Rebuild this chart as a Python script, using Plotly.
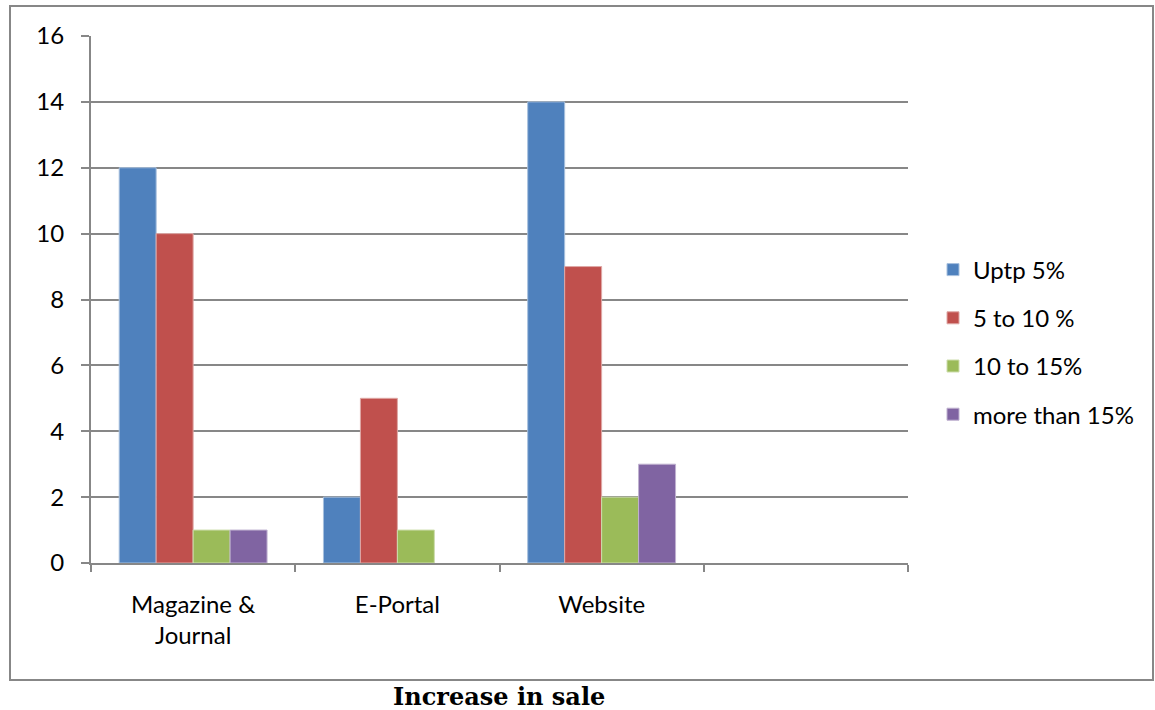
import plotly.graph_objects as go

categories = ["Magazine &<br>Journal", "E-Portal", "Website", " "]
series_names = ["Uptp 5%", "5 to 10 %", "10 to 15%", "more than 15%"]
upto5 = [12, 2, 14]
p5to10 = [10, 5, 9]
p10to15 = [1, 1, 2]
more15 = [1, 0, 3]
y_ticks = [0, 2, 4, 6, 8, 10, 12, 14, 16]
colors = ["#4F81BD", "#C0504D", "#9BBB59", "#8064A2"]
edge_colors = ["#A7C0DE", "#DFA8A6", "#CDDDAC", "#BFB1D0"]

W, H = 1155, 710
L, R, T, B = 91, 247, 36, 147
pw, ph = W - L - R, H - T - B


def px_x(px):
    return (px - L) / pw


def px_y(py):
    return (H - B - py) / ph


font_main = "Lato, 'Open Sans', sans-serif"
fig = go.Figure()
for name, vals, c, ec in zip(series_names, [upto5, p5to10, p10to15, more15], colors, edge_colors):
    fig.add_trace(go.Bar(
        x=categories[:3], y=vals, name=name,
        marker=dict(color=c, line=dict(color=ec, width=[1 if v > 0 else 0 for v in vals])),
        legendgroup=name,
    ))

fig.update_layout(
    width=W, height=H,
    margin=dict(l=L, r=R, t=T, b=B, pad=0),
    paper_bgcolor="white", plot_bgcolor="white",
    barmode="group", bargap=0.276, bargroupgap=0,
    font=dict(family=font_main, size=24, color="#000000"),
    showlegend=True,
    legend=dict(
        x=px_x(933), y=px_y(342), xanchor="left", yanchor="middle",
        font=dict(size=24), tracegroupgap=14, bgcolor="rgba(0,0,0,0)",
        traceorder="grouped",
    ),
    xaxis=dict(
        type="category", categoryorder="array", categoryarray=categories,
        range=[-0.5, 3.5], tickson="boundaries",
        ticks="outside", ticklen=7, tickcolor="#878787", tickwidth=2,
        showline=True, linecolor="#878787", linewidth=2,
        showgrid=False, zeroline=False, tickfont=dict(size=24),
        ticklabelstandoff=19,
    ),
    yaxis=dict(
        range=[0, 16], tickvals=y_ticks, ticktext=[str(v) for v in y_ticks],
        ticks="outside", ticklen=8, tickcolor="#878787", tickwidth=2,
        showline=True, linecolor="#878787", linewidth=2,
        showgrid=True, gridcolor="#878787", gridwidth=2,
        zeroline=False, tickfont=dict(size=24), ticklabelstandoff=12,
    ),
    shapes=[dict(
        type="rect", xref="paper", yref="paper",
        x0=px_x(10), x1=px_x(1153), y0=px_y(680), y1=px_y(6),
        line=dict(color="#878787", width=2), fillcolor="rgba(0,0,0,0)", layer="below",
    )],
    annotations=[dict(
        text="<b>Increase in sale</b>", xref="paper", yref="paper",
        x=px_x(499), y=px_y(696), xanchor="center", yanchor="middle",
        borderpad=0,
        showarrow=False, font=dict(family="'DejaVu Serif', serif", size=24, color="#000000"),
    )],
)

fig.write_html("out.html")
